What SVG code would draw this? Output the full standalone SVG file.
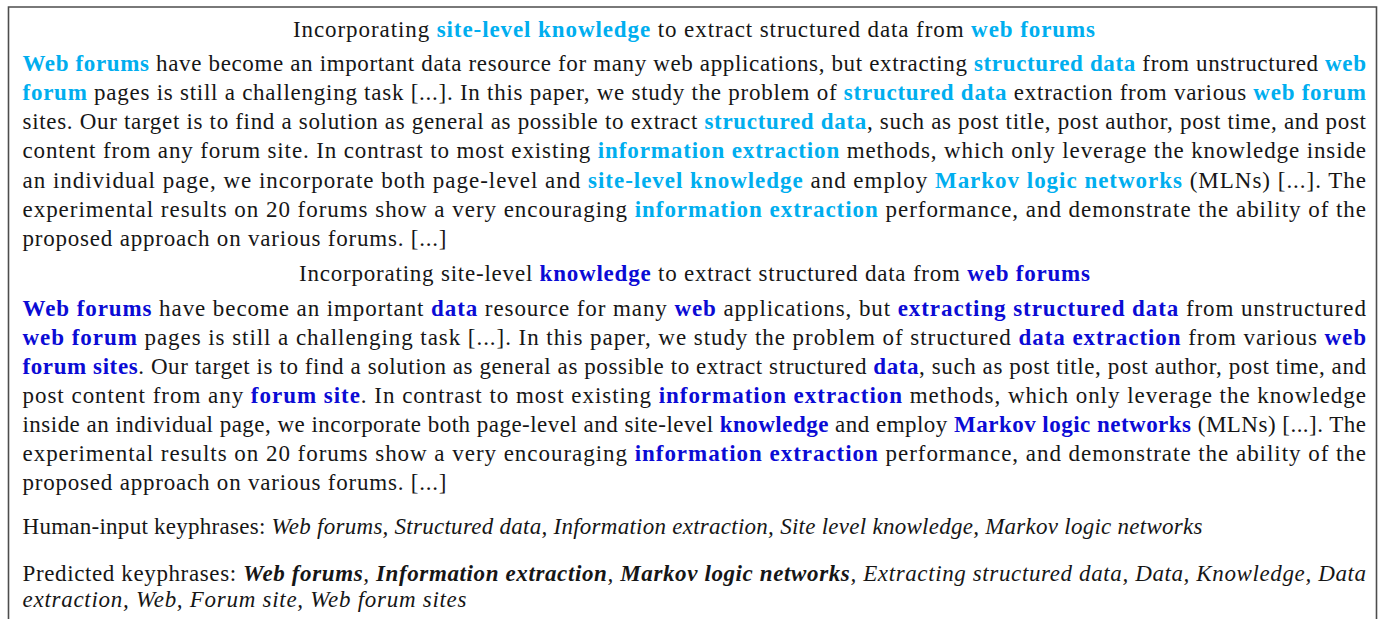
<svg xmlns="http://www.w3.org/2000/svg" width="1385" height="619" viewBox="0 0 1385 619">
<style>
  text { font-family: "Liberation Serif", "DejaVu Serif", serif; font-size: 23px; fill: #161616; }
  .c { fill: #00aeef; font-weight: bold; }
  .b { fill: #0b0bd5; font-weight: bold; }
  .i { font-style: italic; }
  .bi { font-style: italic; font-weight: bold; }
</style>
<rect width="1385" height="619" fill="#ffffff"/>
<g id="frame">
  <path d="M8.5,640 V7 H1376.5 V640" fill="none" stroke="#4d4d4d" stroke-width="1.6"/>
</g>
<g id="title-original">
  <text x="293" y="37" textLength="802" lengthAdjust="spacing">Incorporating <tspan class="c">site-level knowledge</tspan> to extract structured data from <tspan class="c">web forums</tspan></text>
</g>
<g id="abstract-original">
  <text x="22.5" y="71" textLength="1343.5" lengthAdjust="spacing"><tspan class="c">Web forums</tspan> have become an important data resource for many web applications, but extracting <tspan class="c">structured data</tspan> from unstructured <tspan class="c">web</tspan></text>
  <text x="22.5" y="100" textLength="1343.5" lengthAdjust="spacing"><tspan class="c">forum</tspan> pages is still a challenging task [...]. In this paper, we study the problem of <tspan class="c">structured data</tspan> extraction from various <tspan class="c">web forum</tspan></text>
  <text x="22.5" y="129" textLength="1343.5" lengthAdjust="spacing">sites. Our target is to find a solution as general as possible to extract <tspan class="c">structured data</tspan>, such as post title, post author, post time, and post</text>
  <text x="22.5" y="158" textLength="1343.5" lengthAdjust="spacing">content from any forum site. In contrast to most existing <tspan class="c">information extraction</tspan> methods, which only leverage the knowledge inside</text>
  <text x="22.5" y="188" textLength="1343.5" lengthAdjust="spacing">an individual page, we incorporate both page-level and <tspan class="c">site-level knowledge</tspan> and employ <tspan class="c">Markov logic networks</tspan> (MLNs) [...]. The</text>
  <text x="22.5" y="217" textLength="1343.5" lengthAdjust="spacing">experimental results on 20 forums show a very encouraging <tspan class="c">information extraction</tspan> performance, and demonstrate the ability of the</text>
  <text x="22.5" y="246" textLength="424" lengthAdjust="spacing">proposed approach on various forums. [...]</text>
</g>
<g id="title-predicted">
  <text x="299" y="281" textLength="791" lengthAdjust="spacing">Incorporating site-level <tspan class="b">knowledge</tspan> to extract structured data from <tspan class="b">web forums</tspan></text>
</g>
<g id="abstract-predicted">
  <text x="22.5" y="316" textLength="1343.5" lengthAdjust="spacing"><tspan class="b">Web forums</tspan> have become an important <tspan class="b">data</tspan> resource for many <tspan class="b">web</tspan> applications, but <tspan class="b">extracting structured data</tspan> from unstructured</text>
  <text x="22.5" y="345" textLength="1343.5" lengthAdjust="spacing"><tspan class="b">web forum</tspan> pages is still a challenging task [...]. In this paper, we study the problem of structured <tspan class="b">data extraction</tspan> from various <tspan class="b">web</tspan></text>
  <text x="22.5" y="374" textLength="1343.5" lengthAdjust="spacing"><tspan class="b">forum sites</tspan>. Our target is to find a solution as general as possible to extract structured <tspan class="b">data</tspan>, such as post title, post author, post time, and</text>
  <text x="22.5" y="403" textLength="1343.5" lengthAdjust="spacing">post content from any <tspan class="b">forum site</tspan>. In contrast to most existing <tspan class="b">information extraction</tspan> methods, which only leverage the knowledge</text>
  <text x="22.5" y="432" textLength="1343.5" lengthAdjust="spacing">inside an individual page, we incorporate both page-level and site-level <tspan class="b">knowledge</tspan> and employ <tspan class="b">Markov logic networks</tspan> (MLNs) [...]. The</text>
  <text x="22.5" y="461" textLength="1343.5" lengthAdjust="spacing">experimental results on 20 forums show a very encouraging <tspan class="b">information extraction</tspan> performance, and demonstrate the ability of the</text>
  <text x="22.5" y="490" textLength="424" lengthAdjust="spacing">proposed approach on various forums. [...]</text>
</g>
<g id="keyphrases">
  <text x="22.5" y="534" textLength="1180" lengthAdjust="spacing">Human-input keyphrases: <tspan class="i">Web forums, Structured data, Information extraction, Site level knowledge, Markov logic networks</tspan></text>
  <text x="22.5" y="581" textLength="1343.5" lengthAdjust="spacing">Predicted keyphrases: <tspan class="bi">Web forums</tspan><tspan class="i">, </tspan><tspan class="bi">Information extraction</tspan><tspan class="i">, </tspan><tspan class="bi">Markov logic networks</tspan><tspan class="i">, Extracting structured data, Data, Knowledge, Data</tspan></text>
  <text x="22.5" y="607" textLength="444" lengthAdjust="spacing" class="i">extraction, Web, Forum site, Web forum sites</text>
</g>
</svg>
